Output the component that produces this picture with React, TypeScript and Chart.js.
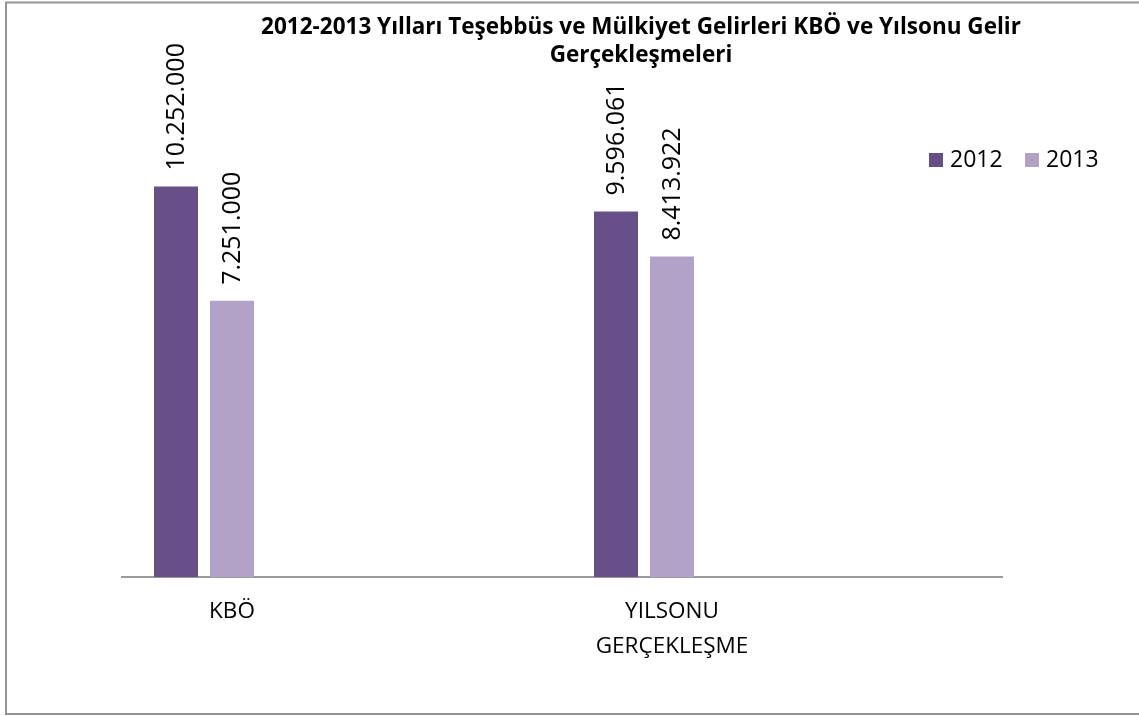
import React, { useEffect, useRef } from 'react';
import { Chart, registerables } from 'chart.js';

Chart.register(...registerables);

const TITLE_LINES = [
  '2012-2013 Yılları Teşebbüs ve Mülkiyet Gelirleri KBÖ ve Yılsonu Gelir',
  'Gerçekleşmeleri',
];
const CATEGORIES: string[][] = [['KBÖ'], [''], ['YILSONU', 'GERÇEKLEŞME'], ['']];
const SERIES_NAMES = ['2012', '2013'];
const VALUES_2012: (number | null)[] = [10252000, null, 9596061, null];
const VALUES_2013: (number | null)[] = [7251000, null, 8413922, null];
const SPACER: (number | null)[] = [null, null, null, null];
const COLORS = ['#674f88', '#b3a2c7'];
const Y_MAX = 12000000;

const FONT = '"Open Sans", "Noto Sans", sans-serif';
const W = 1139;
const H = 716;

function fmt(v: number): string {
  return String(Math.round(v)).replace(/\B(?=(\d{3})+(?!\d))/g, '.');
}

const decorPlugin = {
  id: 'decor',
  beforeDraw(chart: any) {
    const ctx = chart.ctx;
    ctx.save();
    ctx.fillStyle = '#ffffff';
    ctx.fillRect(0, 0, chart.width, chart.height);
    ctx.restore();
  },
  afterDatasetsDraw(chart: any) {
    const ctx = chart.ctx;
    ctx.save();
    ctx.font = `25px ${FONT}`;
    ctx.fillStyle = '#000000';
    ctx.textAlign = 'left';
    ctx.textBaseline = 'middle';
    [0, 1].forEach((di) => {
      const meta = chart.getDatasetMeta(di);
      const data = chart.data.datasets[di].data as (number | null)[];
      meta.data.forEach((bar: any, i: number) => {
        const v = data[i];
        if (v == null) return;
        ctx.save();
        ctx.translate(bar.x + 1, bar.y - 16);
        ctx.rotate(-Math.PI / 2);
        ctx.fillText(fmt(v), 0, 0);
        ctx.restore();
      });
    });
    ctx.restore();
  },
  afterDraw(chart: any) {
    const ctx = chart.ctx;
    ctx.save();
    // outer border
    ctx.strokeStyle = '#939393';
    ctx.lineWidth = 2;
    ctx.strokeRect(6, 2.5, W + 10, 711.5);
    // title
    ctx.fillStyle = '#000000';
    ctx.font = `bold 22.5px ${FONT}`;
    ctx.textAlign = 'center';
    ctx.textBaseline = 'alphabetic';
    ctx.fillText(TITLE_LINES[0], 641, 34);
    ctx.fillText(TITLE_LINES[1], 641, 62);
    // legend
    ctx.font = `23px ${FONT}`;
    ctx.textAlign = 'left';
    ctx.textBaseline = 'middle';
    const lx = [929, 1025];
    SERIES_NAMES.forEach((name, i) => {
      ctx.fillStyle = COLORS[i];
      ctx.fillRect(lx[i], 153, 14, 14);
      ctx.fillStyle = '#000000';
      ctx.fillText(name, lx[i] + 21, 160);
    });
    ctx.restore();
  },
};

export default function App() {
  const ref = useRef<HTMLCanvasElement | null>(null);
  useEffect(() => {
    if (!ref.current) return;
    const chart = new Chart(ref.current, {
      type: 'bar',
      data: {
        labels: CATEGORIES,
        datasets: [
          { label: SERIES_NAMES[0], data: VALUES_2012, backgroundColor: COLORS[0] },
          { label: SERIES_NAMES[1], data: VALUES_2013, backgroundColor: COLORS[1] },
          { label: '', data: SPACER, backgroundColor: 'rgba(0,0,0,0)' },
        ],
      },
      options: {
        responsive: false,
        animation: false,
        devicePixelRatio: 1,
        layout: { padding: { left: 122, right: W - 1002, top: 120, bottom: 0 } },
        datasets: { bar: { categoryPercentage: 0.7636, barPercentage: 0.786 } },
        plugins: {
          legend: { display: false },
          title: { display: false },
          tooltip: { enabled: false },
        },
        scales: {
          y: { display: false, min: 0, max: Y_MAX },
          x: {
            grid: { color: 'rgba(0,0,0,0)', drawTicks: false },
            border: { display: true, color: '#9a9a9a', width: 2 },
            ticks: {
              color: '#000000',
              font: { family: FONT, size: 22.5, lineHeight: 1.55 },
              padding: 17,
              maxRotation: 0,
              autoSkip: false,
            },
            afterFit: (scale: any) => {
              scale.height = H - 577;
            },
          },
        },
      },
      plugins: [decorPlugin],
    });
    return () => chart.destroy();
  }, []);
  return (
    <div style={{ position: 'fixed', left: 0, top: 0, width: W, height: H, background: '#fff' }}>
      <canvas ref={ref} width={W} height={H} style={{ width: W, height: H, display: 'block' }} />
    </div>
  );
}
